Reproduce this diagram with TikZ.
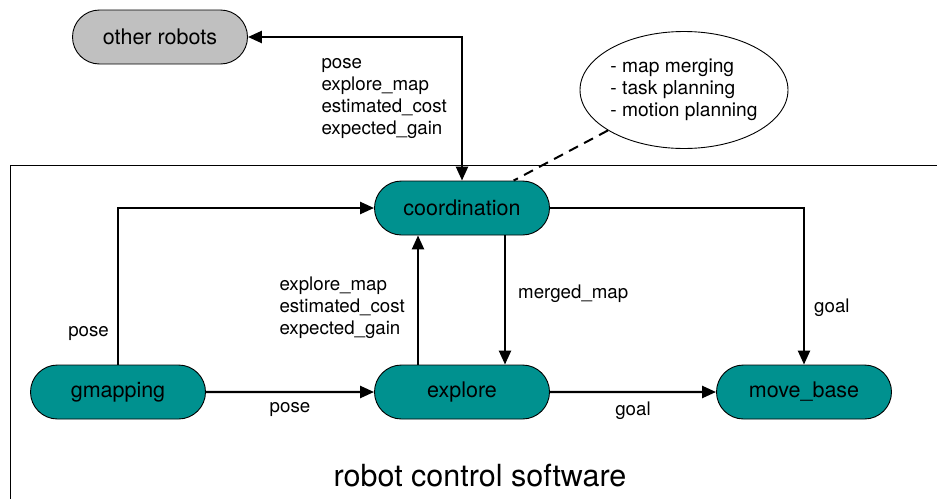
\documentclass[tikz,border=0pt]{standalone}
\usepackage{fontspec}
\setmainfont{TeX Gyre Heros}
\usepackage{tikz}
\usetikzlibrary{shapes.misc}
\usetikzlibrary{shapes.geometric}
\usetikzlibrary{arrows.meta}
\definecolor{nodeteal}{RGB}{0,145,143}
\definecolor{nodegray}{RGB}{192,192,192}

\begin{document}
\begin{tikzpicture}[x = 1pt, y = -1pt,
  proc/.style = {rounded rectangle, draw, line width = .9pt, fill = nodeteal, minimum width = 175pt, minimum height = 54pt, inner sep = 0, font = \fontsize{21.5}{24}\selectfont},
  flow/.style = {line width = 2.4pt, ->},
  lbl/.style = {font = \fontsize{18.7}{22}\selectfont, align = left, inner sep = 0},
  >={Triangle[length = 14pt, width = 12pt]}]
  \useasboundingbox (0, 0) rectangle (937, 498);
  % frame of the robot software
  \draw[line width = .9pt] (10, 520) -- (10, 165) -- (950, 165);
  \node[font = \fontsize{30.5}{34}\selectfont, inner sep = 0] (title) at (480, 476) {robot control software};
  % nodes
  \node[proc, fill = nodegray] (others) at (160, 37) {other robots};
  \node[proc] (coord) at (462, 208) {coordination};
  \node[proc] (gmap) at (118, 392) {gmapping};
  \node[proc] (explore) at (462, 392) {explore};
  \node[proc] (movebase) at (804, 392) {move\_base};
  \node[ellipse, draw, line width = .9pt, minimum width = 205pt, minimum height = 117pt, inner sep = 0, align = left, font = \fontsize{19.2}{22}\selectfont] (notes) at (684, 90) {- map merging\\- task planning\\- motion planning};
  % connectors
  \draw[line width = 2.4pt, <->] (others.east) -| node[lbl, pos = .715, left = 14pt] {pose\\explore\_map\\estimated\_cost\\expected\_gain} (coord.north);
  \draw[dashed, line width = 2pt, dash pattern = on 10pt off 7pt] (notes) -- (coord);
  \draw[flow] (gmap.north) |- node[lbl, pos = .1, left = 8pt] {pose} (coord.west);
  \draw[flow] (gmap) -- node[lbl, below = 9pt] {pose} (explore);
  \draw[flow] (explore) -- node[lbl, below = 9pt] {goal} (movebase);
  \draw[flow] ([xshift = -44pt]explore.north) -- node[lbl, pos = .44, left = 12pt] {explore\_map\\estimated\_cost\\expected\_gain} ([xshift = -44pt]coord.south);
  \draw[flow] ([xshift = 43pt]coord.south) -- node[lbl, pos = .45, right = 12pt] {merged\_map} ([xshift = 43pt]explore.north);
  \draw[flow] (coord.east) -| node[lbl, pos = .82, right = 9pt] {goal} (movebase.north);
\end{tikzpicture}
\end{document}
